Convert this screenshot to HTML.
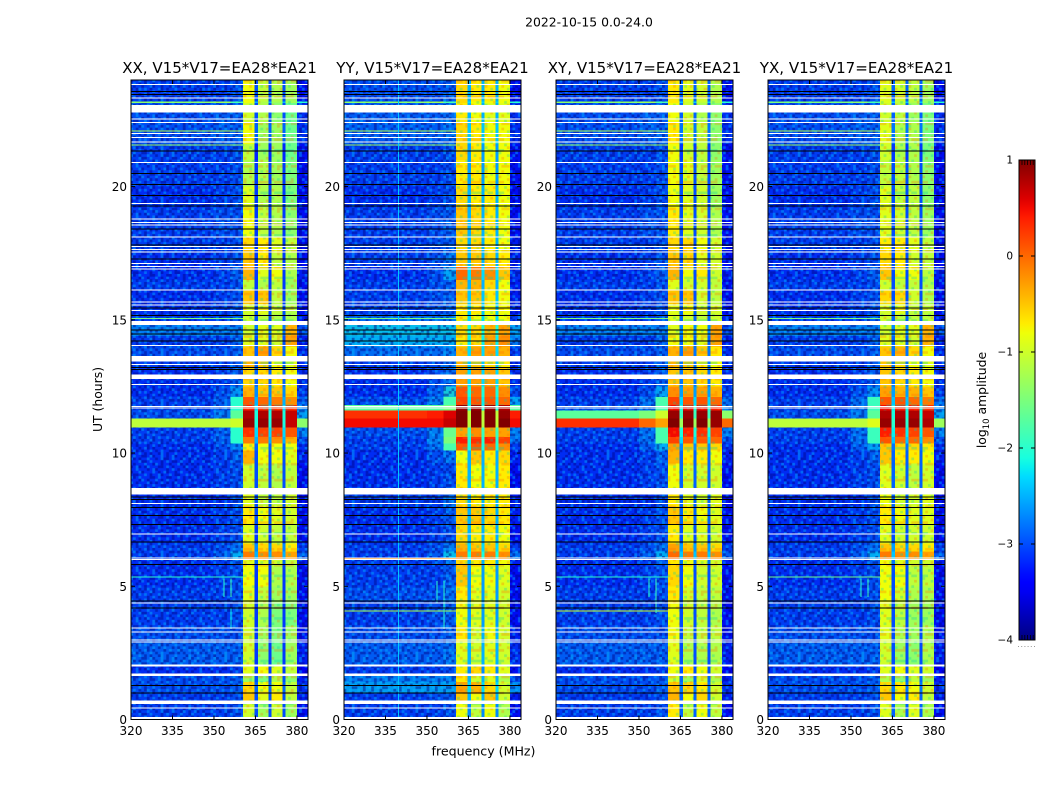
<!DOCTYPE html>
<html>
<head>
<meta charset="utf-8">
<style>
html,body{margin:0;padding:0;background:#fff;}
svg{display:block;font-family:"DejaVu Sans","Liberation Sans",sans-serif;}
</style>
</head>
<body>
<svg id="chart" xmlns="http://www.w3.org/2000/svg" width="1050" height="800" viewBox="0 0 1050 800">
  <defs>
    <linearGradient id="jetGradient" x1="0" y1="1" x2="0" y2="0"></linearGradient>
    <pattern id="speckle" patternUnits="userSpaceOnUse" width="63.71" height="50.54"></pattern>
    <pattern id="bandTexture" patternUnits="userSpaceOnUse" width="47.09" height="42.56"></pattern>
  </defs>
  <rect x="0" y="0" width="1050" height="800" fill="#fff"/>
  <text x="589" y="26.5" font-size="12.4" text-anchor="middle" fill="#000">2022-10-15 0.0-24.0</text>
  <text x="483.5" y="755.5" font-size="12.6" text-anchor="middle" fill="#000">frequency (MHz)</text>
  <text x="0" y="0" font-size="12.4" text-anchor="middle" fill="#000" transform="translate(102,399.5) rotate(-90)">UT (hours)</text>
  <text x="0" y="0" font-size="12.4" text-anchor="middle" fill="#000" transform="translate(986,400) rotate(-90)">log<tspan font-size="8.5" dy="3">10</tspan><tspan dy="-3"> amplitude</tspan></text>
  <g id="panels"></g>
  <g id="colorbar"></g>
</svg>
<script>
/* ---------- categories ---------- */
const panelTitles = ["XX, V15*V17=EA28*EA21", "YY, V15*V17=EA28*EA21", "XY, V15*V17=EA28*EA21", "YX, V15*V17=EA28*EA21"];
const panelNames = ["xx", "yy", "xy", "yx"];
const xTicks = [320, 335, 350, 365, 380];
const yTicks = [0, 5, 10, 15, 20];
const colorbarTicks = [-4, -3, -2, -1, 0, 1];

/* frequency column edges in MHz and which value of a row each column shows */
const freqEdges = [320, 350, 356, 360.5, 364.6, 366, 369.7, 370.8, 374.7, 375.8, 380, 384];
const columnValue = [0, 1, 2, 3, 8, 4, 8, 5, 8, 6, 7];

/* time row edges in hours */
const timeEdges = [0, .6, 1, 1.4, 1.7, 2.05, 2.9, 3.5, 4.4, 5, 5.8, 6.02, 6.3, 6.6, 7.3, 8, 8.7, 9.6, 10.1, 10.36, 10.6, 10.95, 11.3, 11.6, 11.8, 12.1, 12.5, 13.2, 13.6, 14, 14.4, 14.9, 15.2, 15.6, 16.1, 16.5, 17, 17.5, 18.08, 18.13, 19.2, 20, 21, 21.6, 22.4, 23.14, 23.2, 24];

/* log10 amplitude x10, one row per time bin:
   [bg-left, bg-mid, bg-near-band, band1, band2, band3, band4, bg-high, notch-shoulder] */
const valuesXX = [
[-30,-30,-29,-10,-13,-10,-13,-33,-25],[-30,-30,-29,-5,-9,-7,-11,-32,-25],[-29,-29,-28,-6,-8,-8,-11,-31,-24],[-29,-29,-28,-13,-15,-12,-14,-32,-25],
[-31,-31,-30,-9,-8,-9,-11,-34,-26],[-28,-28,-28,-10,-14,-16,-13,-32,-26],[-29,-29,-29,-10,-13,-15,-13,-33,-26],[-30,-30,-29,-10,-12,-15,-15,-33,-26],
[-30,-30,-29,-9,-11,-13,-13,-33,-26],[-31,-30,-29,-8,-8,-12,-12,-33,-26],[-31,-30,-28,-9,-9,-10,-11,-32,-24],[-30,-28,-23,-1,-2,-2,-3,-28,-20],
[-30,-29,-27,-5,-6,-6,-7,-30,-22],[-31,-30,-29,-9,-10,-11,-11,-33,-26],[-31,-30,-29,-7,-8,-9,-10,-33,-25],[-31,-31,-29,-9,-11,-11,-10,-33,-25],
[-31,-30,-29,-10,-11,-12,-11,-33,-25],[-31,-30,-28,-4,-8,-8,-9,-32,-25],[-31,-29,-26,-7,-8,-8,-8,-31,-24],[-30,-28,-20,-1,-1,-2,-4,-29,-20],
[-30,-28,-20,3,2,2,1,-26,-18],[-11,-11,-10,9,9,9,7,-14,-16],[-29,-26,-17,8,8,8,7,-24,-16],[-30,-28,-20,4,3,3,3,-26,-18],
[-30,-28,-20,1,0,-1,-2,-28,-20],[-31,-29,-25,-4,-5,-5,-6,-30,-22],[-31,-30,-28,-6,-6,-7,-8,-31,-24],[-30,-30,-28,-4,-5,-8,-9,-31,-24],
[-29,-29,-28,-5,-3,-6,-8,-31,-24],[-30,-30,-28,-9,-9,-10,-3,-32,-25],[-26,-26,-26,-10,-9,-9,-4,-29,-23],[-30,-30,-28,-10,-11,-12,-12,-32,-25],
[-31,-30,-29,-10,-9,-11,-12,-33,-25],[-31,-30,-29,-5,-5,-11,-13,-33,-26],[-30,-30,-29,-11,-12,-11,-13,-33,-26],[-31,-30,-28,-4,-9,-8,-12,-32,-26],
[-31,-30,-29,-5,-7,-11,-12,-33,-26],[-30,-30,-29,-6,-7,-9,-11,-33,-26],[-14,-13,-20,-7,-8,-8,-5,-30,-24],[-30,-29,-29,-8,-11,-12,-14,-33,-26],
[-31,-30,-29,-9,-12,-12,-15,-33,-26],[-30,-30,-29,-12,-12,-13,-15,-33,-26],[-30,-30,-29,-11,-13,-13,-16,-33,-27],[-29,-28,-28,-8,-13,-13,-16,-31,-24],
[-29,-28,-28,-10,-12,-14,-16,-31,-25],[-14,-13,-18,-8,-12,-13,-13,-20,-20],[-30,-30,-29,-8,-11,-12,-13,-33,-25]
];
const valuesYY = [
[-30,-30,-29,-8,-11,-8,-12,-33,-22],[-30,-29,-28,-5,-8,-5,-10,-32,-20],[-24,-24,-24,-3,-4,-6,-10,-25,-18],[-26,-26,-26,-7,-10,-9,-12,-29,-20],
[-30,-30,-29,-7,-6,-7,-9,-33,-22],[-28,-28,-27,-9,-10,-9,-10,-31,-20],[-29,-29,-28,-7,-10,-8,-10,-32,-20],[-30,-29,-28,-8,-9,-9,-10,-33,-21],
[-29,-29,-27,-7,-9,-9,-10,-33,-21],[-30,-30,-28,-5,-8,-8,-9,-33,-21],[-30,-29,-27,-6,-7,-7,-8,-32,-20],[-30,-28,-22,-1,-1,-1,-2,-27,-16],
[-30,-29,-26,-4,-5,-5,-6,-30,-18],[-31,-30,-29,-6,-7,-7,-8,-33,-20],[-31,-30,-28,-5,-5,-6,-7,-32,-20],[-30,-30,-27,-6,-7,-7,-7,-32,-20],
[-31,-30,-29,-7,-8,-8,-7,-33,-20],[-31,-29,-27,-8,-5,-7,-6,-32,-20],[-30,-27,-18,1,1,0,-2,-30,-16],[-30,-26,-15,4,3,4,2,-27,-15],
[-29,-26,-16,-3,-2,-3,-3,-26,-14],[5,5,7,10,10,10,10,5,-6],[3,4,6,10,10,10,9,4,-6],[-17,-17,-15,9,9,9,8,-17,-16],
[-29,-26,-18,2,1,1,0,-24,-17],[-31,-28,-21,1,0,0,-2,-29,-16],[-31,-29,-27,-3,-3,-3,-5,-31,-18],[-30,-29,-27,-4,-5,-6,-7,-31,-19],
[-27,-27,-26,-4,-3,-3,-4,-30,-18],[-23,-23,-23,-7,-6,-3,-2,-26,-17],[-22,-22,-22,-6,-6,-4,-3,-24,-16],[-27,-27,-26,-7,-8,-8,-8,-30,-18],
[-30,-29,-28,-7,-7,-8,-8,-32,-19],[-30,-29,-28,-5,-5,-7,-8,-32,-19],[-30,-29,-28,-4,-4,-6,-8,-32,-20],[-31,-29,-24,0,-1,-2,-5,-31,-18],
[-30,-29,-27,-5,-5,-6,-7,-32,-20],[-30,-29,-28,-6,-6,-7,-8,-32,-20],[-14,-13,-20,-4,-5,-4,-4,-30,-20],[-30,-29,-28,-5,-6,-7,-8,-33,-20],
[-31,-30,-29,-6,-7,-7,-8,-33,-20],[-30,-30,-29,-7,-7,-8,-8,-33,-21],[-30,-30,-29,-6,-7,-8,-8,-33,-21],[-28,-28,-27,-6,-7,-8,-8,-31,-19],
[-28,-28,-27,-7,-8,-9,-9,-31,-20],[-14,-13,-18,-6,-8,-8,-8,-20,-18],[-29,-29,-28,-6,-7,-7,-8,-33,-20]
];
const valuesXY = [
[-30,-30,-29,-7,-11,-8,-11,-33,-24],[-30,-30,-29,-4,-8,-6,-10,-32,-24],[-29,-29,-28,-5,-6,-7,-10,-31,-23],[-29,-29,-28,-10,-13,-10,-12,-32,-24],
[-31,-31,-30,-8,-7,-8,-10,-34,-25],[-28,-28,-28,-9,-12,-12,-12,-32,-25],[-29,-29,-29,-8,-11,-11,-11,-33,-25],[-30,-30,-29,-8,-10,-11,-12,-33,-25],
[-30,-30,-29,-7,-10,-11,-11,-33,-25],[-31,-30,-29,-6,-8,-10,-10,-33,-25],[-31,-30,-28,-7,-8,-9,-10,-32,-23],[-30,-28,-23,0,-1,-1,-2,-28,-19],
[-30,-29,-27,-3,-5,-5,-6,-30,-21],[-31,-30,-29,-7,-9,-9,-10,-33,-25],[-31,-30,-29,-5,-7,-8,-9,-33,-24],[-31,-31,-29,-7,-9,-10,-9,-33,-24],
[-31,-30,-29,-8,-10,-10,-10,-33,-24],[-31,-30,-28,-4,-7,-7,-8,-32,-24],[-31,-28,-23,-3,-5,-5,-6,-31,-22],[-30,-27,-18,2,1,1,0,-29,-18],
[-30,-27,-18,5,4,3,2,-26,-16],[3,0,-3,10,10,10,9,0,-8],[-17,-15,-10,9,9,9,9,-14,-14],[-29,-27,-18,5,5,5,4,-26,-16],
[-30,-27,-18,2,1,1,0,-27,-18],[-31,-29,-24,-2,-3,-3,-4,-30,-21],[-31,-30,-28,-5,-5,-6,-7,-31,-23],[-30,-30,-28,-4,-5,-7,-8,-31,-23],
[-29,-29,-28,-4,-3,-5,-7,-31,-23],[-30,-30,-28,-8,-8,-9,-3,-32,-24],[-26,-26,-26,-9,-8,-8,-3,-29,-22],[-30,-30,-28,-9,-10,-11,-10,-32,-24],
[-31,-30,-29,-9,-8,-10,-10,-33,-24],[-31,-30,-29,-5,-5,-10,-11,-33,-25],[-30,-30,-29,-9,-10,-10,-11,-33,-25],[-31,-30,-28,-4,-8,-7,-10,-32,-25],
[-31,-30,-29,-5,-6,-9,-10,-33,-25],[-30,-30,-29,-6,-6,-8,-10,-33,-25],[-14,-13,-20,-5,-7,-7,-6,-30,-23],[-30,-29,-29,-7,-9,-10,-12,-33,-25],
[-31,-30,-29,-8,-9,-10,-13,-33,-25],[-30,-30,-29,-8,-9,-11,-13,-33,-25],[-30,-30,-29,-8,-10,-11,-14,-33,-26],[-29,-28,-28,-7,-10,-11,-14,-31,-23],
[-29,-28,-28,-8,-10,-12,-14,-31,-24],[-14,-13,-18,-7,-10,-11,-12,-20,-19],[-30,-30,-29,-7,-9,-10,-12,-33,-24]
];
const valuesYX = [
[-30,-30,-29,-9,-12,-9,-12,-33,-24],[-30,-30,-29,-5,-8,-7,-11,-32,-24],[-29,-29,-28,-6,-7,-8,-10,-31,-23],[-29,-29,-28,-12,-14,-11,-13,-32,-24],
[-31,-31,-30,-9,-8,-9,-10,-34,-25],[-28,-28,-28,-10,-13,-14,-12,-32,-25],[-29,-29,-29,-9,-12,-13,-12,-33,-25],[-30,-30,-29,-9,-11,-13,-13,-33,-25],
[-30,-30,-29,-8,-10,-12,-12,-33,-25],[-31,-30,-29,-8,-8,-11,-11,-33,-25],[-31,-30,-28,-8,-9,-10,-10,-32,-23],[-30,-28,-23,-1,-2,-2,-3,-28,-19],
[-30,-29,-27,-5,-6,-6,-7,-30,-21],[-31,-30,-29,-9,-10,-10,-10,-33,-25],[-31,-30,-29,-7,-8,-9,-9,-33,-24],[-31,-31,-29,-8,-10,-10,-9,-33,-24],
[-31,-30,-29,-9,-10,-11,-10,-33,-24],[-31,-30,-28,-5,-7,-7,-8,-32,-24],[-31,-28,-24,-5,-6,-6,-7,-31,-23],[-30,-27,-19,1,0,0,-2,-29,-19],
[-30,-27,-19,4,3,2,1,-26,-17],[-11,-11,-9,9,9,9,8,-13,-15],[-29,-26,-17,8,8,8,7,-24,-16],[-30,-27,-19,5,4,4,3,-26,-17],
[-30,-27,-19,1,1,0,-1,-27,-19],[-31,-29,-25,-3,-4,-4,-5,-30,-21],[-31,-30,-28,-5,-6,-7,-8,-31,-23],[-30,-30,-28,-5,-6,-8,-9,-31,-23],
[-29,-29,-28,-5,-4,-6,-8,-31,-23],[-30,-30,-28,-9,-9,-10,-4,-32,-24],[-26,-26,-26,-10,-9,-9,-4,-29,-22],[-30,-30,-28,-10,-11,-11,-11,-32,-24],
[-31,-30,-29,-10,-9,-11,-11,-33,-24],[-31,-30,-29,-6,-6,-10,-12,-33,-25],[-30,-30,-29,-10,-11,-11,-12,-33,-25],[-31,-30,-28,-5,-8,-8,-11,-32,-25],
[-31,-30,-29,-6,-7,-10,-11,-33,-25],[-30,-30,-29,-7,-7,-9,-11,-33,-25],[-15,-14,-20,-7,-8,-8,-6,-30,-23],[-30,-29,-29,-9,-10,-11,-13,-33,-25],
[-31,-30,-29,-9,-11,-11,-14,-33,-25],[-30,-30,-29,-11,-11,-12,-14,-33,-25],[-30,-30,-29,-10,-12,-12,-15,-33,-26],[-29,-28,-28,-9,-12,-12,-15,-31,-23],
[-29,-28,-28,-10,-11,-13,-15,-31,-24],[-15,-14,-18,-9,-11,-12,-13,-20,-19],[-30,-30,-29,-9,-10,-11,-13,-33,-24]
];
const panelValues = [valuesXX, valuesYY, valuesXY, valuesYX];

/* flagged data (white) and zero-amplitude (black) integrations, hours */
const whiteLines = [23.83, 23.33, 22.54, 22.41, 21.99, 21.84, 21.68, 20.90, 19.37, 18.78, 18.66, 18.56, 18.10, 17.75, 17.64, 17.55, 17.11, 17.01, 16.90, 16.12, 15.67, 15.55, 15.35, 14.04, 13.32, 12.57, 11.75, 11.69, 8.10, 6.97, 6.07, 6.01, 4.37, 3.43, 3.29, 2.99, 2.90, 0.44];
const whiteBlockStarts = [22.78, 14.80, 13.44, 12.77, 8.45, 1.99, 1.64, 0.59, 0];
const whiteBlockEnds = [23.06, 14.96, 13.64, 12.94, 8.69, 2.07, 1.72, 0.71, 0.09];
const blackLines = [23.56, 23.46, 21.33, 20.49, 20.08, 19.67, 19.27, 18.40, 17.81, 17.29, 15.45, 15.17, 14.62, 14.47, 14.21, 13.21, 13.14, 8.35, 8.25, 7.95, 7.65, 7.31, 6.66, 5.81, 4.44, 4.19, 1.28, 1.00];

/* narrow interference: horizontal [panel, hour, value] and vertical [panel, MHz, startHour, endHour, value] */
const rfiHorizontal = [
[0,22.10,-1.2],[0,21.58,-1.3],[0,15.06,-1.5],[0,5.37,-2.0],
[1,22.10,-1.2],[1,21.58,-1.3],[1,15.06,-1.5],[1,6.05,-0.2],[1,4.10,-1.2],
[2,22.10,-1.2],[2,21.58,-1.3],[2,15.06,-1.5],[2,5.37,-2.0],[2,4.10,-1.0],
[3,22.10,-1.2],[3,21.58,-1.3],[3,15.06,-1.5],[3,5.37,-1.6]
];
const rfiVertical = [
[0,353.4,4.6,5.3,-2.0],[0,355.9,4.6,5.3,-1.9],[0,355.9,3.4,4.2,-2.2],
[1,339.5,0,24,-2.4],[1,353.4,4.4,5.2,-2.0],[1,355.9,3.4,5.2,-2.0],
[2,353.4,4.6,5.3,-2.0],[2,355.9,4.0,5.3,-1.9],
[3,353.4,4.6,5.3,-2.0],[3,355.9,4.6,5.3,-1.9]
];

/* noise texture tiles: d = darker, l = lighter, o = warmer, g = cooler, . = unchanged */
const speckleTile = [
"d.l..dd.ld..l.d.ld..d.l",
".ld.d..l..d.ldd.l..dl.d",
"l...ldd.l...d.l.dd.l..d",
"d.d...l..dl.d..d..ld.d.",
".d.ld.dl...dd.l.d...dl.",
"d..l...d.ld...d.l.d..d.",
".d..ld...l.d.ld..d.l..d",
"l.dd..l.d..ld..l.dd..l.",
".ld.l...dd.l..dd..l.d.d",
"d...dl.d..l.d.l..d..d.l",
".l.d...ld.d.l.d.dl..d..",
"dd..l.d..l..dd..d.ld.l.",
"..l.d.dl.d.l..l.d..d..d",
"l.d..d..ld..d..dl.d.l.d",
".d.dl.l.d..ld.d..l..d..",
"d..d...d.l.d.l..d.d.l.d",
".l..d.ld.d...d.l..ld..l",
"d.ld.d..l.d.l..dd.d.d..",
".d..l.d.d..dl.d..l...dl"
];
const bandTile = [
"..g..o...g.o.....",
"o......g.....g..o",
".....o....o......",
"g..o.....g...o.g.",
"oooo..oooooo..ooo",
".......g.........",
"..g.....o...g....",
"o....g.......o...",
"gggg..gg.ggg..ggg",
"....o.....g....o.",
".g.....o.....g...",
"...o.......o.....",
"o.....g..o.....g.",
"..g.........g....",
"oo.ooo..oo.ooo.oo",
".....g.........o."
];

const SVGNS = "http://www.w3.org/2000/svg";
const panelLefts = [131, 344, 556, 768];
const panelWidth = 177;
const plotTop = 80;
const plotBottom = 719.5;
const FREQ_MIN = 320, FREQ_MAX = 384, HOUR_MAX = 24;
const VMIN = -4, VMAX = 1;
const NOTCH_DEPTH = -0.5; /* notch centre sits below its shoulder value */

function xScale(panel, mhz) { return panelLefts[panel] + (mhz - FREQ_MIN) / (FREQ_MAX - FREQ_MIN) * panelWidth; }
function yScale(hour) { return plotBottom - hour / HOUR_MAX * (plotBottom - plotTop); }
function clamp01(a) { return Math.max(0, Math.min(1, a)); }
function jet(v) {
  const t = clamp01((v - VMIN) / (VMAX - VMIN));
  let r = t < .35 ? 0 : t < .66 ? (t - .35) / .31 : t < .89 ? 1 : 1 - (t - .89) / .11 * .5;
  let g = t < .125 ? 0 : t < .375 ? (t - .125) / .25 : t < .64 ? 1 : t < .91 ? 1 - (t - .64) / .27 : 0;
  let b = t < .11 ? .5 + t / .11 * .5 : t < .34 ? 1 : t < .65 ? 1 - (t - .34) / .31 : 0;
  return "rgb(" + Math.round(r * 255) + "," + Math.round(g * 255) + "," + Math.round(b * 255) + ")";
}
function make(parent, tag, attrs) {
  const el = document.createElementNS(SVGNS, tag);
  for (const k in attrs) el.setAttribute(k, attrs[k]);
  parent.appendChild(el);
  return el;
}
function label(v) { return String(v).replace("-", "\u2212"); }

/* jet gradient stops */
const grad = document.getElementById("jetGradient");
for (let i = 0; i <= 50; i++) {
  make(grad, "stop", { offset: (i / 50), "stop-color": jet(VMIN + (VMAX - VMIN) * i / 50) });
}
/* texture tiles */
const pat = document.getElementById("speckle");
make(pat, "rect", { x: 0, y: 0, width: 63.71, height: 50.54, fill: "rgba(0,0,200,.22)" });
speckleTile.forEach(function (line, j) {
  for (let i = 0; i < line.length; i++) {
    if (line[i] === ".") continue;
    make(pat, "rect", { x: i * 2.77, y: j * 2.66, width: 2.77, height: 2.66,
      fill: line[i] === "d" ? "rgba(0,0,130,.45)" : "rgba(0,190,255,.42)" });
  }
});
const bandPat = document.getElementById("bandTexture");
bandTile.forEach(function (line, j) {
  for (let i = 0; i < line.length; i++) {
    if (line[i] === ".") continue;
    make(bandPat, "rect", { x: i * 2.77, y: j * 2.66, width: 2.77, height: 2.66,
      fill: line[i] === "o" ? "rgba(255,110,0,.3)" : "rgba(0,210,170,.3)" });
  }
});

const panelsRoot = document.getElementById("panels");
panelValues.forEach(function (matrix, p) {
  const g = make(panelsRoot, "g", {});
  
  
  const left = panelLefts[p];

  const heat = make(g, "g", { "shape-rendering": "crispEdges" });
  
  
  matrix.forEach(function (row, r) {
    const y0 = yScale(timeEdges[r + 1]), y1 = yScale(timeEdges[r]);
    columnValue.forEach(function (vi, c) {
      const x0 = xScale(p, freqEdges[c]), x1 = xScale(p, freqEdges[c + 1]);
      const isNotch = vi === 8;
      const isBand = vi >= 3 && vi <= 6;
      const v = row[vi] / 10 + (isNotch ? NOTCH_DEPTH : 0);
      const cell = make(heat, "rect", { x: x0, y: y0, width: x1 - x0, height: y1 - y0, fill: jet(v) });
      
      
      if (v < -2 && !isNotch) {
        const noise = make(heat, "rect", { x: x0, y: y0, width: x1 - x0, height: y1 - y0, fill: "url(#speckle)" });
        
        
      } else if (isBand && v < 0.6) {
        const tex = make(heat, "rect", { x: x0, y: y0, width: x1 - x0, height: y1 - y0, fill: "url(#bandTexture)" });
        
        
      }
    });
  });

  const flags = make(g, "g", { "shape-rendering": "crispEdges" });
  
  
  rfiHorizontal.filter(function (e) { return e[0] === p; }).forEach(function (e) {
    const rfi = make(flags, "rect", { x: xScale(p, FREQ_MIN), y: yScale(e[1]), width: xScale(p, 360.5) - xScale(p, FREQ_MIN), height: 1, fill: jet(e[2]) });
    
    
  });
  rfiVertical.filter(function (e) { return e[0] === p; }).forEach(function (e) {
    const rfi = make(flags, "rect", { x: xScale(p, e[1]), y: yScale(e[3]), width: 1, height: yScale(e[2]) - yScale(e[3]), fill: jet(e[4]) });
    
    
  });
  whiteBlockStarts.forEach(function (s, i) {
    const blk = make(flags, "rect", { x: left, y: yScale(whiteBlockEnds[i]), width: panelWidth, height: yScale(s) - yScale(whiteBlockEnds[i]), fill: "#fff" });
    
    
  });
  whiteLines.forEach(function (h) {
    const ln = make(flags, "rect", { x: left, y: yScale(h) - .5, width: panelWidth, height: 1, fill: "#fff" });
    
    
  });
  blackLines.forEach(function (h) {
    const ln = make(flags, "rect", { x: left, y: yScale(h) - .5, width: panelWidth, height: 1, fill: "#000" });
    
    
  });

  const axes = make(g, "g", {});
  
  
  xTicks.forEach(function (t) {
    const x = xScale(p, t);
    const t1 = make(axes, "line", { x1: x, x2: x, y1: plotBottom, y2: plotBottom - 4, stroke: "#000", "stroke-width": 1 });
    
    
    const t2 = make(axes, "line", { x1: x, x2: x, y1: plotTop, y2: plotTop + 4, stroke: "#000", "stroke-width": 1 });
    
    
    const tx = make(axes, "text", { x: x, y: 735, "font-size": 12, "text-anchor": "middle", fill: "#000" });
    
    
    tx.textContent = label(t);
  });
  yTicks.forEach(function (t) {
    const y = yScale(t);
    const t1 = make(axes, "line", { x1: left, x2: left + 4, y1: y, y2: y, stroke: "#000", "stroke-width": 1 });
    
    
    const t2 = make(axes, "line", { x1: left + panelWidth - 4, x2: left + panelWidth, y1: y, y2: y, stroke: "#000", "stroke-width": 1 });
    
    
    const tx = make(axes, "text", { x: left - 4, y: y + 4.5, "font-size": 12, "text-anchor": "end", fill: "#000" });
    
    
    tx.textContent = label(t);
  });
  const frame = make(axes, "rect", { x: left, y: plotTop, width: panelWidth, height: plotBottom - plotTop, fill: "none", stroke: "#000", "stroke-width": 1 });
  
  
  const title = make(axes, "text", { x: left + panelWidth / 2, y: 73, "font-size": 15.05, "text-anchor": "middle", fill: "#000" });
  
  
  title.textContent = panelTitles[p];
});

/* colorbar */
const cb = document.getElementById("colorbar");
const cbLeft = 1019, cbRight = 1035, cbTop = 160, cbBottom = 640;
function cbY(v) { return cbBottom - (v - VMIN) / (VMAX - VMIN) * (cbBottom - cbTop); }
const cbRect = make(cb, "rect", { x: cbLeft, y: cbTop, width: cbRight - cbLeft, height: cbBottom - cbTop, fill: "url(#jetGradient)", stroke: "#000", "stroke-width": 1 });


colorbarTicks.forEach(function (t) {
  const y = cbY(t);
  const a = make(cb, "line", { x1: cbLeft, x2: cbLeft + 4, y1: y, y2: y, stroke: "#000" });
  
  
  const b = make(cb, "line", { x1: cbRight - 4, x2: cbRight, y1: y, y2: y, stroke: "#000" });
  
  
  const tx = make(cb, "text", { x: 1013, y: y + 3.5, "font-size": 10.5, "text-anchor": "end", fill: "#000" });
  
  
  tx.textContent = label(t);
});
for (let i = 0; i < 5; i++) {
  const top = make(cb, "line", { x1: 1022 + i * 2.8, x2: 1022 + i * 2.8, y1: cbTop, y2: cbTop + 5, stroke: "#000", "stroke-width": .8 });
  
  
  const bot = make(cb, "line", { x1: 1022 + i * 2.8, x2: 1022 + i * 2.8, y1: cbBottom - 5, y2: cbBottom, stroke: "#000", "stroke-width": .8 });
  
  
}
for (let i = 0; i < 6; i++) {
  const dot = make(cb, "rect", { x: 1018 + i * 3.2, y: 646, width: 1, height: 1, fill: "#999" });
  
  
}
</script>
</body>
</html>
